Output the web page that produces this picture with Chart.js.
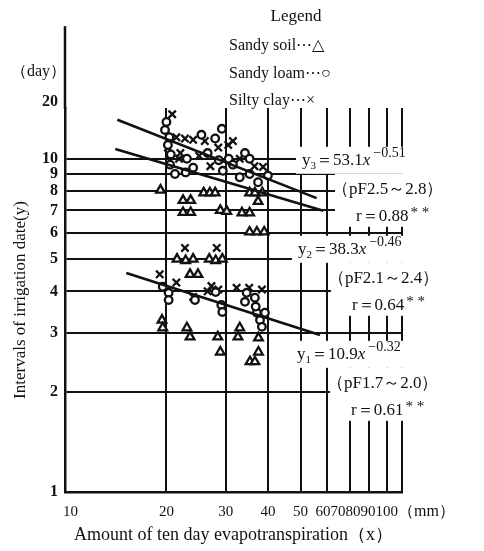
<!DOCTYPE html>
<html>
<head>
<meta charset="utf-8">
<script src="https://cdn.jsdelivr.net/npm/chart.js@4.4.1/dist/chart.umd.min.js"></script>
<style>
  html, body { margin: 0; background: #fff; }
  #wrap { width: 484px; height: 551px; }
</style>
</head>
<body>
<div id="wrap"><canvas id="chart"></canvas></div>
<script>
// === Data ===
const INK = '#111';
const SERIF = '"Liberation Serif","DejaVu Serif",serif';

const X_TICKS = [10, 20, 30, 40, 50, 60, 70, 80, 90, 100];
const Y_TICKS = [1, 2, 3, 4, 5, 6, 7, 8, 9, 10];
const X_MIN = 10, X_MAX = 100;
const Y_MIN = 1, Y_MAX = 14.2;   // top of the grid
const Y_AXIS_TOP = 25;          // axis line keeps going above the grid

const SOIL_LABELS = ['Sandy soil', 'Sandy loam', 'Silty clay'];
const SOIL_MARKS  = ['△', '○', '×'];

// Sandy soil (triangles)
const sandySoil = [
  {x:19.2,y:8.05},{x:25.8,y:7.9},{x:26.9,y:7.9},{x:27.9,y:7.9},{x:35.3,y:7.9},{x:36.6,y:7.9},{x:38.5,y:7.9},
  {x:37.4,y:7.45},{x:22.4,y:7.5},{x:23.6,y:7.5},{x:22.4,y:6.9},{x:23.6,y:6.9},{x:28.9,y:7.0},{x:30.2,y:6.95},
  {x:33.5,y:6.88},{x:35.3,y:6.88},{x:35.3,y:6.03},{x:37.1,y:6.03},{x:39.0,y:6.03},
  {x:21.5,y:5.0},{x:22.8,y:4.95},{x:24.0,y:5.0},{x:26.8,y:5.0},{x:28.0,y:4.95},{x:29.3,y:5.0},
  {x:23.5,y:4.5},{x:24.8,y:4.5},
  {x:19.4,y:3.28},{x:19.5,y:3.11},{x:23.0,y:3.11},{x:23.5,y:2.92},{x:28.4,y:2.92},{x:28.9,y:2.63},
  {x:33.0,y:3.11},{x:32.6,y:2.92},{x:37.5,y:2.9},{x:37.5,y:2.63},{x:35.4,y:2.46},{x:36.6,y:2.46}
];
// Sandy loam (circles)
const sandyLoam = [
  {x:20.0,y:12.9},{x:19.8,y:12.2},{x:20.4,y:11.6},{x:20.2,y:11.0},{x:20.6,y:10.3},{x:20.5,y:9.6},
  {x:21.2,y:9.0},{x:22.8,y:9.1},{x:24.0,y:9.4},{x:25.4,y:11.8},{x:27.9,y:11.5},{x:26.5,y:10.4},
  {x:28.6,y:9.9},{x:29.4,y:9.2},{x:30.6,y:10.0},{x:31.5,y:9.6},{x:34.2,y:10.4},{x:35.3,y:10.0},
  {x:35.3,y:9.0},{x:37.4,y:8.5},{x:40.0,y:8.9},{x:29.2,y:12.3},{x:23.0,y:10.0},{x:33.0,y:8.8},
  {x:19.5,y:4.13},{x:20.3,y:3.96},{x:20.3,y:3.77},{x:24.3,y:3.77},{x:28.0,y:3.98},{x:29.1,y:3.64},
  {x:29.3,y:3.47},{x:34.6,y:3.96},{x:34.2,y:3.72},{x:36.6,y:3.83},{x:37.1,y:3.45},{x:39.2,y:3.45},
  {x:37.9,y:3.28},{x:38.4,y:3.13},{x:36.8,y:3.6}
];
// Silty clay (crosses)
const siltyClay = [
  {x:20.8,y:13.6},{x:21.4,y:11.6},{x:22.7,y:11.5},{x:24.0,y:11.4},{x:26.0,y:11.3},{x:20.2,y:10.8},
  {x:22.0,y:10.4},{x:25.0,y:10.2},{x:28.5,y:10.8},{x:30.5,y:11.0},{x:33.0,y:10.0},{x:38.7,y:9.45},
  {x:21.8,y:10.0},{x:27.0,y:9.5},{x:36.5,y:9.5},{x:31.5,y:11.3},
  {x:22.7,y:5.4},{x:28.2,y:5.4},
  {x:19.1,y:4.5},{x:21.4,y:4.25},{x:24.0,y:3.85},{x:26.5,y:4.0},{x:28.5,y:4.05},{x:32.3,y:4.1},
  {x:38.4,y:4.05},{x:35.2,y:4.1},{x:27.2,y:4.15}
];

// regression lines, ends
const fit3 = [{x:14.3,y:13.1},{x:55.8,y:7.62}];
const fit2 = [{x:14.1,y:10.7},{x:58.4,y:6.98}];
const fit1 = [{x:15.2,y:4.54},{x:57.1,y:2.96}];

// equation blocks: anchor = left / middle of the first line
const FIT_TEXT = [
  {x:50.5, y:9.86, sub:'3', a:'53.1', b:'−0.51', pf:'（pF2.5～2.8）', r:'0.88'},
  {x:49.1, y:5.33, sub:'2', a:'38.3', b:'−0.46', pf:'（pF2.1～2.4）', r:'0.64'},
  {x:48.8, y:2.58, sub:'1', a:'10.9', b:'−0.32', pf:'（pF1.7～2.0）', r:'0.61'}
];

function logTicks(list){
  return scale => { scale.ticks = list.map(v => ({ value: v })); };
}

function drawEquation(ctx, x0, yc, f){
  let x = x0;
  const put = (t, font, dy) => {
    ctx.font = font;
    ctx.fillText(t, x, yc + dy);
    x += ctx.measureText(t).width;
  };
  put('y', `17px ${SERIF}`, 0);
  put(f.sub, `11px ${SERIF}`, 5);
  put('＝' + f.a, `17px ${SERIF}`, 0);
  put('x', `italic 17px ${SERIF}`, 0);
  x += 3;
  put(f.b, `14px ${SERIF}`, -7);
}

const decor = {
  id: 'decor',
  afterDatasetsDraw(chart){
    const { ctx, chartArea: a, scales: { x, y } } = chart;
    const W = chart.width;
    ctx.save();
    ctx.fillStyle = INK;
    ctx.strokeStyle = INK;

    // y axis goes on above the grid
    ctx.lineWidth = 2.5;
    ctx.beginPath();
    ctx.moveTo(a.left, a.top + 1);
    ctx.lineTo(a.left, y.getPixelForValue(Y_AXIS_TOP));
    ctx.stroke();

    // equation blocks, on white so they cut the grid
    FIT_TEXT.forEach(f => {
      const x0 = x.getPixelForValue(f.x);
      const yc = y.getPixelForValue(f.y);
      ctx.fillStyle = '#fff';
      ctx.fillRect(x0 - 6, yc - 14, W - x0 + 6, 27);
      ctx.fillRect(x0 + 33, yc + 13, W - x0 - 33, 53);
      ctx.fillStyle = INK;
      ctx.textAlign = 'left';
      ctx.textBaseline = 'middle';
      drawEquation(ctx, x0, yc, f);
      ctx.font = `17px ${SERIF}`;
      ctx.fillText(f.pf, x0 + 30, yc + 29);
      const rt = 'r＝' + f.r;
      ctx.fillText(rt, x0 + 54, yc + 56);
      const rw = ctx.measureText(rt).width;
      ctx.font = `15px ${SERIF}`;
      ctx.fillText('* *', x0 + 56 + rw, yc + 52);
    });

    // x tick labels: packed leftwards where they would collide, as printed
    ctx.font = `15px ${SERIF}`;
    ctx.textAlign = 'left';
    ctx.textBaseline = 'middle';
    const n = X_TICKS.length;
    const pos = X_TICKS.map(v => x.getPixelForValue(v));
    const txt = X_TICKS.map(String);
    const w = txt.map(t => ctx.measureText(t).width);
    const right = [];
    right[n - 1] = pos[n - 1] - 4;
    for (let i = n - 2; i >= 0; i--) right[i] = Math.min(pos[i] + w[i] / 2, right[i + 1] - w[i + 1]);
    right[0] = Math.max(right[0], pos[0] + w[0] - 2);
    const ty = a.bottom + 20;
    txt.forEach((t, i) => ctx.fillText(t, right[i] - w[i], ty));
    ctx.font = `16px ${SERIF}`;
    ctx.fillText('（mm）', right[n - 1], ty);

    // unit and top label of the y axis (the print sets "20" just above the grid)
    ctx.textAlign = 'right';
    ctx.font = `16px ${SERIF}`;
    ctx.fillText('（day）', a.left + 1, 72);
    ctx.font = `bold 16px ${SERIF}`;
    ctx.fillText('20', a.left - 7, a.top - 6);

    // legend block
    ctx.textAlign = 'center';
    ctx.font = `17px ${SERIF}`;
    ctx.fillText('Legend', 296, 17);
    ctx.textAlign = 'left';
    ctx.font = `16px ${SERIF}`;
    SOIL_LABELS.forEach((lab, i) => {
      ctx.fillText(lab + '⋯' + SOIL_MARKS[i], 229, 46 + i * 27.5);
    });
    ctx.restore();
  }
};

const scatterBase = {
  borderColor: INK,
  backgroundColor: '#fff',
  borderWidth: 2.3,
  showLine: false
};
const fitBase = {
  borderColor: INK,
  borderWidth: 2.6,
  pointRadius: 0,
  showLine: true,
  fill: false
};

new Chart(document.getElementById('chart'), {
  type: 'scatter',
  data: {
    datasets: [
      { ...fitBase, label: 'y3', data: fit3 },
      { ...fitBase, label: 'y2', data: fit2 },
      { ...fitBase, label: 'y1', data: fit1 },
      { ...scatterBase, label: SOIL_LABELS[0], data: sandySoil, pointStyle: 'triangle', pointRadius: 5 },
      { ...scatterBase, label: SOIL_LABELS[1], data: sandyLoam, pointStyle: 'circle', pointRadius: 3.8 },
      { ...scatterBase, label: SOIL_LABELS[2], data: siltyClay, pointStyle: 'crossRot', pointRadius: 5.2 }
    ]
  },
  options: {
    responsive: true,
    maintainAspectRatio: false,
    animation: false,
    layout: { padding: { top: 108, right: 82, left: 0, bottom: 0 } },
    plugins: {
      legend: { display: false },
      tooltip: { enabled: false }
    },
    scales: {
      x: {
        type: 'logarithmic',
        min: X_MIN, max: X_MAX,
        afterBuildTicks: logTicks(X_TICKS),
        afterFit: s => { s.height = 59; },
        grid: { color: INK, lineWidth: 2, drawTicks: false },
        border: { color: INK, width: 2.5 },
        ticks: { display: false },
        title: {
          display: true,
          text: 'Amount of ten day evapotranspiration（x）',
          color: INK,
          font: { family: SERIF, size: 18 },
          padding: { top: 0, bottom: 5 }
        }
      },
      y: {
        type: 'logarithmic',
        min: Y_MIN, max: Y_MAX,
        afterBuildTicks: logTicks(Y_TICKS),
        afterFit: s => { s.width = 65; },
        grid: { color: INK, lineWidth: 2, drawTicks: false },
        border: { color: INK, width: 2.5 },
        ticks: {
          color: INK,
          padding: 7,
          font: { family: SERIF, size: 16, weight: 'bold' },
          callback: v => String(v)
        },
        title: {
          display: true,
          text: 'Intervals of irrigation date(y)',
          color: INK,
          font: { family: SERIF, size: 17 },
          padding: { top: 10, bottom: 0 }
        }
      }
    }
  },
  plugins: [decor]
});
</script>
</body>
</html>
